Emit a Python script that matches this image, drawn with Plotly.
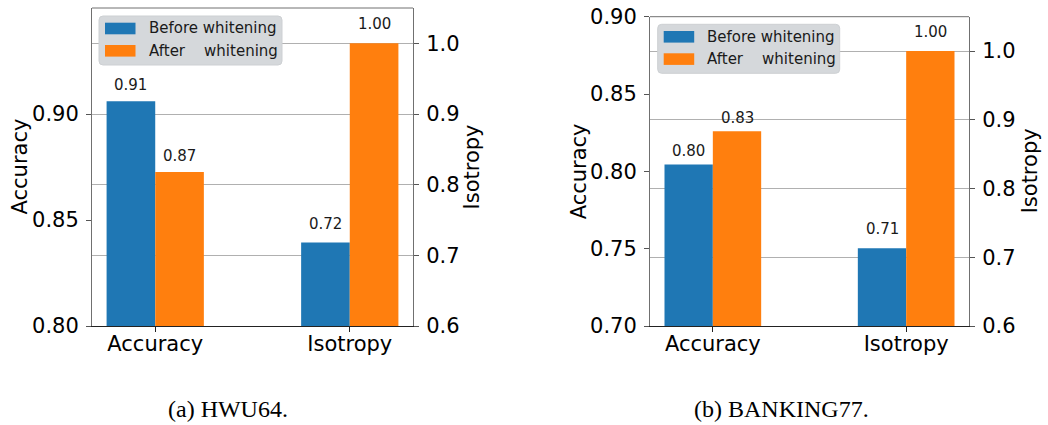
import plotly.graph_objects as go

W, H = 1048, 425

# ---- data -----------------------------------------------------------------
categories = ["Accuracy", "Isotropy"]
series_names = ["Before whitening", "After\u00a0\u00a0\u00a0\u00a0whitening"]
series_colors = ["#1f77b4", "#ff7f0e"]

# values per series: [before, after]
hwu_accuracy = [0.906, 0.8726]
hwu_isotropy = [0.718, 1.0]
bank_accuracy = [0.8045, 0.826]
bank_isotropy = [0.713, 1.0]

panel_captions = ["(a) HWU64.", "(b) BANKING77."]
acc_ranges = [[0.80, 0.95], [0.70, 0.90]]
acc_ticks = [[0.80, 0.85, 0.90], [0.70, 0.75, 0.80, 0.85, 0.90]]
iso_range = [0.6, 1.05]
iso_ticks = [0.6, 0.7, 0.8, 0.9, 1.0]

panels = [
    dict(acc=hwu_accuracy, iso=hwu_isotropy, box=(92, 8, 413, 326),
         legend=(99, 16, 183), label_dy=(16, 19), caption_x=228,
         ytitle_x=(19.5, 471.5)),
    dict(acc=bank_accuracy, iso=bank_isotropy, box=(650, 16.7, 969, 326),
         legend=(657.7, 24.3, 182), label_dy=(13, 19), caption_x=781,
         ytitle_x=(579, 1030)),
]

FONT = "DejaVu Sans"
BAR_W = 0.25


def px(x):
    return x / W


def py(y):
    return 1 - y / H


fig = go.Figure()
annotations = []
shapes = []
layout = {}

for p, panel in enumerate(panels):
    xa = "x" if p == 0 else "x2"
    ya_l = "y" if p == 0 else "y3"
    ya_r = "y2" if p == 0 else "y4"
    x0, y0, x1, y1 = panel["box"]
    xdom = [px(x0), px(x1)]
    ydom = [py(y1), py(y0)]

    layout["xaxis" + ("" if p == 0 else "2")] = dict(
        domain=xdom, anchor=ya_l, range=[-0.325, 1.325], automargin=False,
        tickmode="array", tickvals=[0, 1], ticktext=categories,
        ticks="outside", ticklen=5, tickcolor="#222", tickwidth=1,
        showline=True, linecolor="#222", linewidth=1.3,
        showgrid=False, zeroline=False, fixedrange=True,
        ticklabelstandoff=-6,
        tickfont=dict(family=FONT, size=21, color="black"),
    )
    layout["yaxis" + ("" if p == 0 else "3")] = dict(
        domain=ydom, anchor=xa, range=acc_ranges[p], automargin=False,
        tickmode="array", tickvals=acc_ticks[p], tickformat=".2f",
        ticks="outside", ticklen=5, tickcolor="#555", tickwidth=1,
        showline=True, linecolor="#707070", linewidth=1,
        showgrid=False, zeroline=False, ticklabelstandoff=3,
        tickfont=dict(family=FONT, size=21, color="black"),
    )
    layout["yaxis" + ("2" if p == 0 else "4")] = dict(
        overlaying=ya_l, side="right", anchor=xa, range=iso_range,
        automargin=False,
        tickmode="array", tickvals=iso_ticks, tickformat=".1f",
        ticks="outside", ticklen=5, tickcolor="#555", tickwidth=1,
        showline=True, linecolor="#707070", linewidth=1,
        showgrid=True, gridcolor="#b0b0b0", gridwidth=1,
        zeroline=False, ticklabelstandoff=3,
        tickfont=dict(family=FONT, size=21, color="black"),
    )

    # top frame line
    shapes.append(dict(type="line", xref="paper", yref="paper",
                       x0=xdom[0], x1=xdom[1], y0=ydom[1], y1=ydom[1],
                       line=dict(color="#707070", width=1)))

    # bars: accuracy on the left axis, isotropy on the right axis
    for s in range(2):
        offset = -BAR_W + BAR_W * s
        for ci, (vals, yref) in enumerate([(panel["acc"], ya_l), (panel["iso"], ya_r)]):
            v = vals[s]
            fig.add_trace(go.Bar(
                x=[ci], y=[v], xaxis=xa, yaxis=yref,
                width=BAR_W, offset=offset,
                marker=dict(color=series_colors[s], line=dict(width=0)),
                showlegend=False, hoverinfo="skip",
            ))
            annotations.append(dict(
                x=ci + offset + BAR_W / 2, y=v, xref=xa, yref=yref,
                text=f"{v:.2f}", showarrow=False, yanchor="middle",
                yshift=panel["label_dy"][ci],
                font=dict(family=FONT, size=15, color="#1a1a1a"),
            ))

    # axis titles
    ymid = (y0 + y1) / 2
    for tx, title in zip(panel["ytitle_x"], ["Accuracy", "Isotropy"]):
        annotations.append(dict(
            x=px(tx), y=py(ymid), xref="paper", yref="paper",
            text=title, textangle=-90, showarrow=False,
            xanchor="center", yanchor="middle",
            font=dict(family=FONT, size=21, color="black"),
        ))

    # legend box with wide colour patches
    lx, ly, lw = panel["legend"]
    lh, r = 49, 4
    path = (
        f"M {px(lx + r)} {py(ly)} L {px(lx + lw - r)} {py(ly)} "
        f"Q {px(lx + lw)} {py(ly)} {px(lx + lw)} {py(ly + r)} "
        f"L {px(lx + lw)} {py(ly + lh - r)} "
        f"Q {px(lx + lw)} {py(ly + lh)} {px(lx + lw - r)} {py(ly + lh)} "
        f"L {px(lx + r)} {py(ly + lh)} "
        f"Q {px(lx)} {py(ly + lh)} {px(lx)} {py(ly + lh - r)} "
        f"L {px(lx)} {py(ly + r)} "
        f"Q {px(lx)} {py(ly)} {px(lx + r)} {py(ly)} Z"
    )
    shapes.append(dict(type="path", xref="paper", yref="paper", path=path,
                       fillcolor="#d5d8db", line=dict(color="#cdd0d3", width=1)))
    for s in range(2):
        cy = ly + 12.5 + 22.3 * s
        shapes.append(dict(type="rect", xref="paper", yref="paper",
                           x0=px(lx + 6), x1=px(lx + 36.5),
                           y0=py(cy + 5.8), y1=py(cy - 5.8),
                           fillcolor=series_colors[s], line=dict(width=0)))
        annotations.append(dict(
            x=px(lx + 47.5), y=py(cy), xref="paper", yref="paper",
            text=series_names[s], showarrow=False,
            xanchor="left", yanchor="middle",
            font=dict(family=FONT, size=15, color="#1a1a1a"),
        ))

    # caption below the panel
    annotations.append(dict(
        x=px(panel["caption_x"]), y=py(409), xref="paper", yref="paper",
        text=panel_captions[p], showarrow=False,
        xanchor="center", yanchor="middle",
        font=dict(family="Liberation Serif", size=24, color="black"),
    ))

fig.update_layout(
    width=W, height=H,
    margin=dict(l=0, r=0, t=0, b=0, autoexpand=False),
    paper_bgcolor="white", plot_bgcolor="white",
    barmode="overlay", showlegend=False,
    annotations=annotations, shapes=shapes,
    **layout,
)

fig.write_html("out.html")
